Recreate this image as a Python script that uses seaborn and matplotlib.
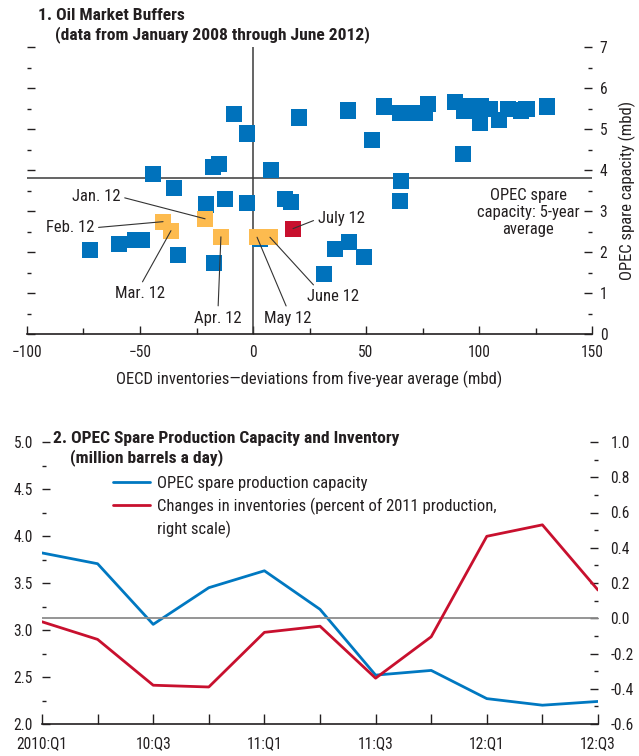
import numpy as np
import pandas as pd
import matplotlib
matplotlib.use("Agg")
import matplotlib.pyplot as plt
from matplotlib import font_manager
from matplotlib.ticker import MultipleLocator, FixedLocator, FormatStrFormatter
from matplotlib.lines import Line2D
import seaborn as sns

# ---------------- Panel 1 data ----------------
blue_x = [-8.4, -2.7, -17.7, -15.0, -44.2, -35.0, -20.8, -12.4, -2.7, -72.0,
          -59.3, -52.2, -49.1, -33.2, -17.3, 3.0, 20.4, 42.0, 58.0, 52.7,
          8.0, 14.2, 16.8, 36.3, 42.5, 49.1, 31.4, 65.5, 65.0, 65.0,
          69.0, 76.0, 77.4, 89.4, 93.4, 96.0, 101.0, 100.4, 105.0, 109.0,
          113.0, 118.6, 121.0, 130.0, 93.0]
blue_y = [5.36, 4.89, 4.08, 4.14, 3.91, 3.57, 3.16, 3.30, 3.20, 2.05,
          2.20, 2.30, 2.30, 1.93, 1.74, 2.31, 5.28, 5.45, 5.55, 4.74,
          4.01, 3.30, 3.23, 2.08, 2.25, 1.88, 1.47, 3.74, 3.25, 5.40,
          5.40, 5.38, 5.62, 5.65, 5.45, 5.57, 5.57, 5.16, 5.48, 5.23,
          5.48, 5.45, 5.48, 5.55, 4.40]
recent_labels = ["Jan. 12", "Feb. 12", "Mar. 12", "Apr. 12", "May 12", "June 12"]
recent_x = [-21.2, -39.8, -36.3, -14.2, 1.8, 7.5]
recent_y = [2.81, 2.74, 2.52, 2.37, 2.36, 2.36]
latest_label = "July 12"
latest_x = [17.7]
latest_y = [2.57]
avg_spare = 3.81

# ---------------- Panel 2 data ----------------
quarters = ["2010:Q1", "10:Q2", "10:Q3", "10:Q4", "11:Q1", "11:Q2",
            "11:Q3", "11:Q4", "12:Q1", "12:Q2", "12:Q3"]
spare_capacity = [3.82, 3.705, 3.06, 3.45, 3.63, 3.22, 2.52, 2.57, 2.27, 2.20, 2.24]
inventory_changes = [-0.02, -0.12, -0.38, -0.39, -0.08, -0.045, -0.34, -0.105, 0.465, 0.53, 0.16]
quarter_ticks = ["2010:Q1", "10:Q3", "11:Q1", "11:Q3", "12:Q1", "12:Q3"]

# ---------------- style ----------------
sns.set_theme(style="white")
avail = {f.name for f in font_manager.fontManager.ttflist}
prefs = ["Liberation Sans Narrow", "Roboto Condensed", "Open Sans Condensed",
         "Liberation Sans", "DejaVu Sans"]
fam = [f for f in prefs if f in avail] + ["DejaVu Sans"]
plt.rcParams["font.family"] = fam
plt.rcParams["font.size"] = 11
TXT = "#231f20"
plt.rcParams["text.color"] = TXT
plt.rcParams["xtick.color"] = TXT
plt.rcParams["ytick.color"] = TXT
plt.rcParams["axes.labelcolor"] = TXT

FS = 12        # regular text
TFS = 12.6     # bold titles
TKS = 11.2     # tick labels

BLUE = "#0072bc"
ORANGE = "#fdbb4f"
RED = "#c8102e"

W, H = 639, 756
fig = plt.figure(figsize=(W / 100, H / 100), dpi=100)

# ================= Panel 1 =================
ax1 = fig.add_axes([27 / W, 1 - 334 / H, (592 - 27) / W, (334 - 47) / H])
df1 = pd.DataFrame({
    "x": blue_x + recent_x + latest_x,
    "y": blue_y + recent_y + latest_y,
    "g": ["hist"] * len(blue_x) + ["recent"] * len(recent_x) + ["latest"] * len(latest_x),
})
ax1.axhline(avg_spare, color="#3a3a3a", lw=1.1, zorder=1)
ax1.axvline(0, color="#3a3a3a", lw=1.1, zorder=1)
sns.scatterplot(data=df1, x="x", y="y", hue="g",
                palette={"hist": BLUE, "recent": ORANGE, "latest": RED},
                marker="s", s=135, linewidth=0, legend=False, ax=ax1, zorder=3)
ax1.set_xlim(-100, 150)
ax1.set_ylim(0, 7)
for s in ["top", "left", "right"]:
    ax1.spines[s].set_visible(False)
ax1.spines["bottom"].set_color(TXT)
ax1.spines["bottom"].set_linewidth(1.2)
ax1.xaxis.set_major_locator(MultipleLocator(50))
ax1.xaxis.set_minor_locator(MultipleLocator(25))
ax1.yaxis.set_major_locator(MultipleLocator(1))
ax1.yaxis.set_minor_locator(MultipleLocator(0.5))
ax1.tick_params(axis="x", which="both", direction="in", bottom=True, top=False, pad=8, labelsize=TKS)
ax1.tick_params(axis="x", which="major", length=6, width=1)
ax1.tick_params(axis="x", which="minor", length=4, width=1)
ax1.tick_params(axis="y", which="both", direction="in", left=True, right=True,
                labelleft=False, labelright=True, pad=5.5, labelsize=TKS)
ax1.tick_params(axis="y", which="major", length=6, width=1)
ax1.tick_params(axis="y", which="minor", length=3, width=1)
ax1.yaxis.set_label_position("right")
ax1.set_ylabel("OPEC spare capacity (mbd)", fontsize=FS, labelpad=8)
ax1.set_xlabel("OECD inventories\u2014deviations from five-year average (mbd)", fontsize=FS, labelpad=8)
ax1.grid(False)

# annotations
text_pos = [(-58.8, 3.35), (-70.4, 2.59), (-50.0, 0.98), (-15.5, 0.39), (15.5, 0.39), (35.4, 0.91)]
text_ha = ["right", "right", "center", "center", "center", "center"]
text_rel = [(1, 0.5), (1, 0.5), (0.5, 1), (0.5, 1), (0.5, 1), (0.2, 1)]
for lab, px, py, tp, ha, rp in zip(recent_labels, recent_x, recent_y, text_pos, text_ha, text_rel):
    ax1.annotate(lab, xy=(px, py), xytext=tp, ha=ha, va="center", fontsize=FS,
                 arrowprops=dict(arrowstyle="-", color="#333333", lw=0.8,
                                 shrinkA=1, shrinkB=0, relpos=rp), zorder=4)
ax1.annotate(latest_label, xy=(latest_x[0], latest_y[0]), xytext=(28.8, 2.81),
             ha="left", va="center", fontsize=FS,
             arrowprops=dict(arrowstyle="-", color="#333333", lw=0.8,
                             shrinkA=1, shrinkB=0, relpos=(0, 0.5)), zorder=4)
ax1.text(121.7, 2.96, "OPEC spare\ncapacity: 5-year\naverage", ha="center", va="center",
         fontsize=FS, linespacing=1.15)

fig.text(38 / W, 1 - 15 / H, "1. Oil Market Buffers", ha="left", va="center",
         fontsize=TFS, fontweight="bold")
fig.text(55 / W, 1 - 35 / H, "(data from January 2008 through June 2012)", ha="left",
         va="center", fontsize=TFS, fontweight="bold")

# ================= Panel 2 =================
ax2 = fig.add_axes([42 / W, 1 - 724 / H, (598 - 42) / W, (724 - 442) / H])
axr = ax2.twinx()
xq = np.arange(len(quarters))
df2 = pd.DataFrame({"q": xq, "spare": spare_capacity, "inv": inventory_changes})
axr.axhline(0, color="#8c8c8c", lw=1.3, zorder=1)
sns.lineplot(data=df2, x="q", y="spare", ax=ax2, color="#0078c1", lw=2.0, zorder=3)
sns.lineplot(data=df2, x="q", y="inv", ax=axr, color=RED, lw=2.0, zorder=3)

ax2.set_xlim(0, len(quarters) - 1)
ax2.set_ylim(2.0, 5.0)
axr.set_ylim(-0.6, 1.0)
for a in (ax2, axr):
    for s in ["top", "left", "right"]:
        a.spines[s].set_visible(False)
    a.grid(False)
    a.set_xlabel("")
    a.set_ylabel("")
axr.spines["bottom"].set_visible(False)
ax2.spines["bottom"].set_color(TXT)
ax2.spines["bottom"].set_linewidth(1.2)

ax2.xaxis.set_major_locator(FixedLocator([0, 2, 4, 6, 8, 10]))
ax2.xaxis.set_minor_locator(FixedLocator([1, 3, 5, 7, 9]))
ax2.set_xticklabels(quarter_ticks)
ax2.tick_params(axis="x", which="both", direction="in", length=7, width=1,
                bottom=True, top=False, pad=8.5, labelsize=TKS)
ax2.yaxis.set_major_locator(MultipleLocator(0.5))
ax2.yaxis.set_minor_locator(MultipleLocator(0.25))
ax2.yaxis.set_major_formatter(FormatStrFormatter("%.1f"))
ax2.tick_params(axis="y", which="both", direction="in", left=True, right=False,
                labelleft=True, labelright=False, pad=6.5, labelsize=TKS)
ax2.tick_params(axis="y", which="major", length=6, width=1)
ax2.tick_params(axis="y", which="minor", length=3, width=1)
axr.yaxis.set_major_locator(MultipleLocator(0.2))
axr.yaxis.set_minor_locator(MultipleLocator(0.1))
axr.yaxis.set_major_formatter(FormatStrFormatter("%.1f"))
axr.tick_params(axis="y", which="both", direction="in", left=False, right=True,
                labelleft=False, labelright=True, pad=9, labelsize=TKS)
axr.tick_params(axis="y", which="major", length=6, width=1)
axr.tick_params(axis="y", which="minor", length=3, width=1)

handles = [Line2D([], [], color="#0078c1", lw=2.0),
           Line2D([], [], color=RED, lw=2.0),
           Line2D([], [], color="none", lw=0)]
labels = ["OPEC spare production capacity",
          "Changes in inventories (percent of 2011 production,",
          "right scale)"]
fs_px = FS * 100 / 72
leg = axr.legend(handles, labels, loc="upper left",
                 bbox_to_anchor=((113 - 42) / 556, (724 - 476) / 282),
                 frameon=False, fontsize=FS, handlelength=37 / fs_px,
                 handletextpad=7 / fs_px, borderpad=0, borderaxespad=0,
                 labelspacing=0.38)

fig.text(53 / W, 1 - 438 / H, "2. OPEC Spare Production Capacity and Inventory",
         ha="left", va="center", fontsize=TFS, fontweight="bold")
fig.text(70 / W, 1 - 458 / H, "(million barrels a day)", ha="left", va="center",
         fontsize=TFS, fontweight="bold")

fig.save = None
fig.savefig("out.png", dpi=100)
